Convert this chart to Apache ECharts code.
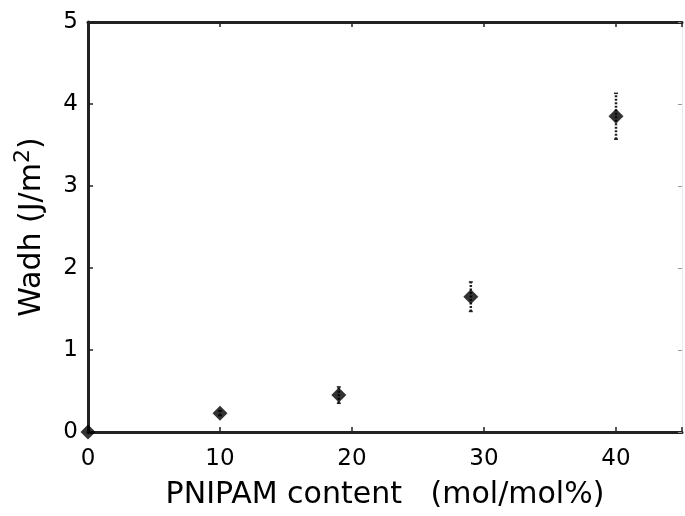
<!DOCTYPE html>
<html>
<head>
<meta charset="utf-8">
<script src="https://cdn.jsdelivr.net/npm/echarts@6/dist/echarts.min.js"></script>
<style>
html,body{margin:0;padding:0;background:#fff;}
#c{width:685px;height:516px;}
</style>
</head>
<body>
<div id="c"></div>
<script>
// Data
var xVals = [0, 10, 19, 29, 40];
var yVals = [0, 0.23, 0.45, 1.65, 3.85];
var errVals = [0, 0.03, 0.1, 0.18, 0.28];
var xTicks = [0, 10, 20, 30, 40];
var yTicks = [0, 1, 2, 3, 4, 5];

var pts = xVals.map(function (x, i) { return [x, yVals[i]]; });
var errData = xVals.map(function (x, i) { return [x, yVals[i] - errVals[i], yVals[i] + errVals[i]]; });

var axisColor = '#222';
var font = 'DejaVu Sans';

var chart = echarts.init(document.getElementById('c'), null, {renderer: 'canvas'});
chart.setOption({
  animation: false,
  backgroundColor: '#fff',
  grid: {left: 88, right: 1, top: 22, bottom: 84},
  xAxis: [{
    type: 'value', min: 0, max: 45, interval: 10, position: 'bottom',
    name: 'PNIPAM content   (mol/mol%)', nameLocation: 'middle', nameGap: 48,
    nameTextStyle: {fontFamily: font, fontSize: 30, color: '#000'},
    axisLine: {show: true, onZero: false, lineStyle: {color: axisColor, width: 3}},
    axisTick: {show: true, inside: true, length: 5, lineStyle: {color: axisColor, width: 1.5}},
    axisLabel: {fontFamily: font, fontSize: 23, color: '#000', margin: 16,
      formatter: function (v) { return xTicks.indexOf(v) >= 0 ? String(v) : ''; }},
    splitLine: {show: false}
  }, {
    type: 'value', min: 0, max: 45, interval: 10, position: 'top',
    axisLine: {show: true, onZero: false, lineStyle: {color: axisColor, width: 3}},
    axisTick: {show: true, inside: true, length: 5, lineStyle: {color: axisColor, width: 1.5}},
    axisLabel: {show: false}, splitLine: {show: false}
  }],
  yAxis: [{
    type: 'value', min: 0, max: 5, interval: 1, position: 'left',
    name: '{a|Wadh (J/m}{s|2}{a|)}', nameLocation: 'middle', nameGap: 36, nameRotate: 90,
    nameTextStyle: {rich: {
      a: {fontFamily: font, fontSize: 30, color: '#000'},
      s: {fontFamily: font, fontSize: 22, color: '#000', padding: [0, 0, 18, 0]}
    }},
    axisLine: {show: true, onZero: false, lineStyle: {color: axisColor, width: 3}},
    axisTick: {show: true, inside: true, length: 5, lineStyle: {color: axisColor, width: 1.5}},
    axisLabel: {fontFamily: font, fontSize: 23, color: '#000', margin: 10,
      formatter: function (v) { return yTicks.indexOf(v) >= 0 ? String(v) : ''; }},
    splitLine: {show: false}
  }, {
    type: 'value', min: 0, max: 5, interval: 1, position: 'right',
    axisLine: {show: true, onZero: false, lineStyle: {color: '#e4e4e4', width: 1, type: 'dotted'}},
    axisTick: {show: true, inside: true, length: 4, lineStyle: {color: '#999', width: 1}},
    axisLabel: {show: false}, splitLine: {show: false}
  }],
  series: [{
    type: 'custom',
    xAxisIndex: 0, yAxisIndex: 0,
    data: errData,
    z: 3,
    renderItem: function (params, api) {
      var x = api.value(0);
      var lo = api.coord([x, api.value(1)]);
      var hi = api.coord([x, api.value(2)]);
      if (Math.abs(hi[1] - lo[1]) < 1) return null;
      var cap = 2;
      return {type: 'group', children: [
        {type: 'line', shape: {x1: lo[0], y1: lo[1], x2: hi[0], y2: hi[1]}, style: {stroke: '#222', lineWidth: 2.5, lineDash: [2, 1.5]}},
        {type: 'line', shape: {x1: lo[0] - cap, y1: lo[1], x2: lo[0] + cap, y2: lo[1]}, style: {stroke: '#222', lineWidth: 1.5}},
        {type: 'line', shape: {x1: hi[0] - cap, y1: hi[1], x2: hi[0] + cap, y2: hi[1]}, style: {stroke: '#222', lineWidth: 1.5}}
      ]};
    }
  }, {
    type: 'scatter',
    xAxisIndex: 0, yAxisIndex: 0,
    data: pts,
    symbol: 'diamond',
    symbolSize: 15,
    itemStyle: {color: '#000'},
    z: 5
  }]
});
</script>
</body>
</html>
